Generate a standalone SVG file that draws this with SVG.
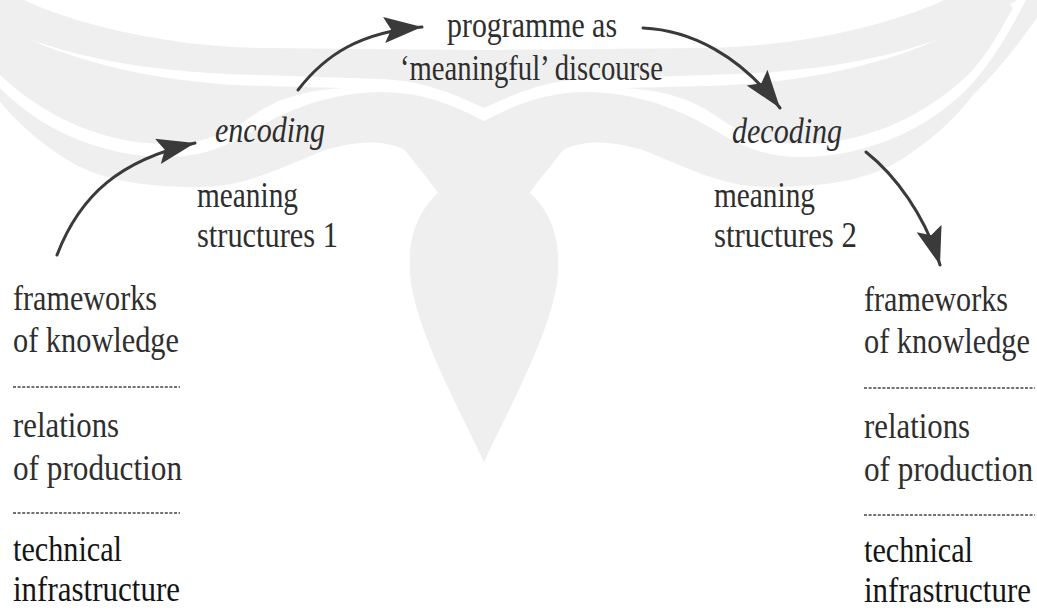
<svg xmlns="http://www.w3.org/2000/svg" width="1037" height="610" viewBox="0 0 1037 610" font-family="'Liberation Serif', 'DejaVu Serif', serif">
<style>
.wm{fill:#efefef;stroke:none}
.t{font-family:'Liberation Serif','DejaVu Serif',serif;font-size:30px;fill:#2e2e2e}
.i{font-style:italic}
.k{fill:#151515}
.arrow{fill:none;stroke:#3a3a3a;stroke-width:3;stroke-linecap:round}
.sep{stroke:#444;stroke-width:1.6;stroke-dasharray:3 1.6}
</style>
<defs>
<marker id="head" markerUnits="userSpaceOnUse" markerWidth="40" markerHeight="28" refX="38" refY="13" orient="auto" viewBox="0 0 40 28">
<path d="M0,0 L38,13 L0,26 L7,13 Z" fill="#3a3a3a"/>
</marker>
<g id="wingL">
<path d="M24,0 C70,22 160,46 260,48 L484,50 L484,108 C450,92 420,80 380,79 L260,75 C160,73 40,60 -49,0 Z"/>
<path d="M-38,0 C40,60 160,84 262,86 L345,88 C300,90 275,101 255,114 C230,132 205,144 167,144 C110,144 50,122 0,75 C-20,55 -35,25 -45,8 Z"/>
<path d="M-58,0 C-40,35 -20,68 2,90 C40,128 100,157 167,157 C215,157 240,137 268,122 C300,105 335,93 380,92 C425,92 455,106 484,121 L484,175 L440,170 L405,150 C380,138 350,142 320,152 C280,168 245,187 200,187 C140,187 95,180 60,155 C30,135 10,115 -5,95 C-40,60 -65,25 -80,0 Z"/>
</g>
</defs>
<rect width="1037" height="610" fill="#ffffff"/>
<g id="watermark" class="wm">
<use href="#wingL"/>
<use href="#wingL" transform="translate(968 0) scale(-1 1)"/>
<path d="M398,140 C415,165 430,180 438,193 C415,215 408,240 410,275 C415,330 460,410 484,462 C508,410 553,330 558,275 C560,240 553,215 530,193 C538,180 553,165 570,140 Z"/>
</g>
<g id="connectors">
<path class="arrow" marker-end="url(#head)" d="M57,255 C80,195 120,160 195,143"/>
<path class="arrow" marker-end="url(#head)" d="M298,90 C325,55 360,32 422,27"/>
<path class="arrow" marker-end="url(#head)" d="M643,28 C690,30 740,55 780,108"/>
<path class="arrow" marker-end="url(#head)" d="M866,152 C895,175 925,215 940,265"/>
</g>
<g id="programme">
<text class="t" transform="translate(447 37) scale(1 1.2)" textLength="170" lengthAdjust="spacingAndGlyphs">programme as</text>
<text class="t" transform="translate(400 80) scale(1 1.2)" textLength="263" lengthAdjust="spacingAndGlyphs">‘meaningful’ discourse</text>
</g>
<g id="encoding">
<text class="t i" transform="translate(215 142) scale(1 1.2)" textLength="110" lengthAdjust="spacingAndGlyphs">encoding</text>
</g>
<g id="meaning1">
<text class="t" transform="translate(197 207) scale(1 1.2)" textLength="101" lengthAdjust="spacingAndGlyphs">meaning</text>
<text class="t" transform="translate(197 247) scale(1 1.2)" textLength="141" lengthAdjust="spacingAndGlyphs">structures 1</text>
</g>
<g id="decoding">
<text class="t i" transform="translate(732 143) scale(1 1.2)" textLength="110" lengthAdjust="spacingAndGlyphs">decoding</text>
</g>
<g id="meaning2">
<text class="t" transform="translate(714 207) scale(1 1.2)" textLength="101" lengthAdjust="spacingAndGlyphs">meaning</text>
<text class="t" transform="translate(714 247) scale(1 1.2)" textLength="143" lengthAdjust="spacingAndGlyphs">structures 2</text>
</g>
<g id="left-stack">
<text class="t" transform="translate(13 310) scale(1 1.2)" textLength="144" lengthAdjust="spacingAndGlyphs">frameworks</text>
<text class="t" transform="translate(13 352) scale(1 1.2)" textLength="166" lengthAdjust="spacingAndGlyphs">of knowledge</text>
<line class="sep" x1="13" y1="387" x2="180" y2="387"/>
<text class="t" transform="translate(13 437) scale(1 1.2)" textLength="106" lengthAdjust="spacingAndGlyphs">relations</text>
<text class="t" transform="translate(13 480) scale(1 1.2)" textLength="169" lengthAdjust="spacingAndGlyphs">of production</text>
<line class="sep" x1="13" y1="513" x2="180" y2="513"/>
<text class="t k" transform="translate(13 561) scale(1 1.2)" textLength="109" lengthAdjust="spacingAndGlyphs">technical</text>
<text class="t k" transform="translate(13 601) scale(1 1.2)" textLength="167" lengthAdjust="spacingAndGlyphs">infrastructure</text>
</g>
<g id="right-stack">
<text class="t" transform="translate(864 311) scale(1 1.2)" textLength="144" lengthAdjust="spacingAndGlyphs">frameworks</text>
<text class="t" transform="translate(864 353) scale(1 1.2)" textLength="166" lengthAdjust="spacingAndGlyphs">of knowledge</text>
<line class="sep" x1="864" y1="388" x2="1035" y2="388"/>
<text class="t" transform="translate(864 438) scale(1 1.2)" textLength="106" lengthAdjust="spacingAndGlyphs">relations</text>
<text class="t" transform="translate(864 481) scale(1 1.2)" textLength="169" lengthAdjust="spacingAndGlyphs">of production</text>
<line class="sep" x1="864" y1="515" x2="1035" y2="515"/>
<text class="t k" transform="translate(864 562) scale(1 1.2)" textLength="109" lengthAdjust="spacingAndGlyphs">technical</text>
<text class="t k" transform="translate(864 602) scale(1 1.2)" textLength="167" lengthAdjust="spacingAndGlyphs">infrastructure</text>
</g>
</svg>
